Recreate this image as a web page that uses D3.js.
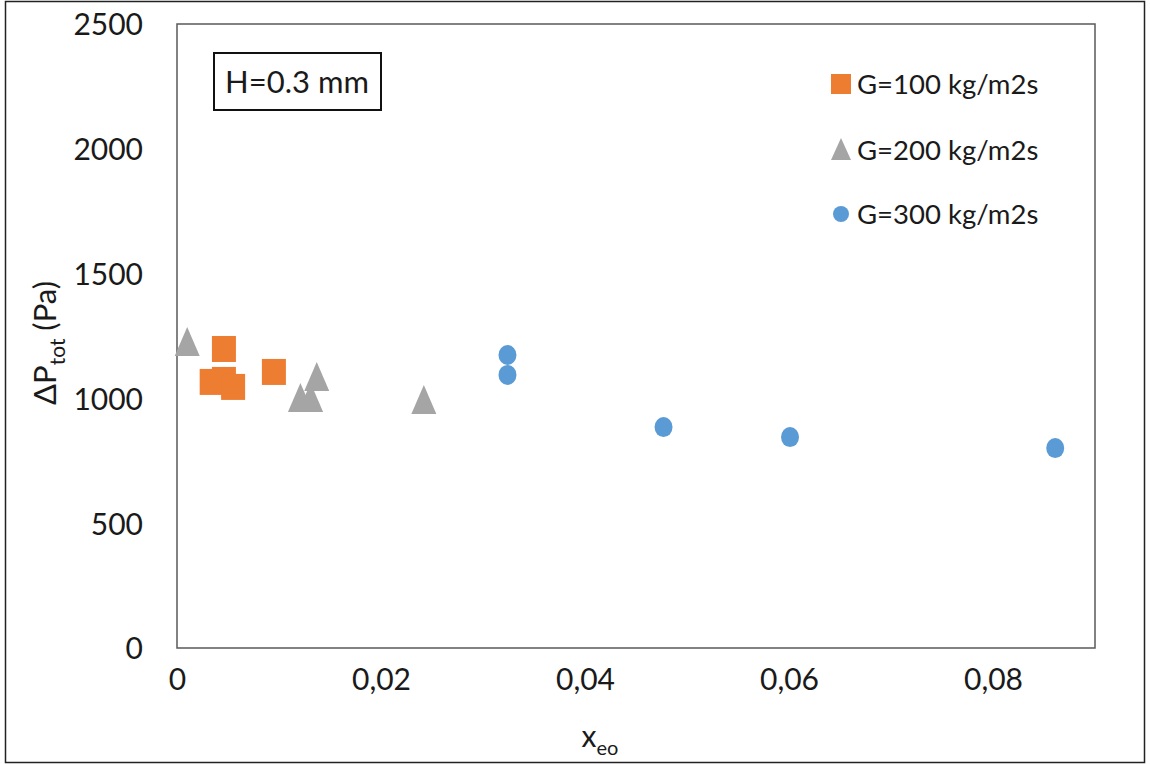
<!DOCTYPE html>
<html>
<head>
<meta charset="utf-8">
<script src="https://cdn.jsdelivr.net/npm/d3@7"></script>
<style>
  body { margin: 0; background: #fff; }
  text { font-family: Lato, "Open Sans", sans-serif; fill: #1a1a1a; }
</style>
</head>
<body>
<script>
// chart size
const w = 1150;
const h = 764;

// data (x_eo, dP in Pa)
const g100X = [0.0046, 0.0095, 0.0034, 0.0046, 0.0055];
const g100Y = [1198, 1106, 1066, 1074, 1046];
const g200X = [0.0010, 0.0137, 0.0121, 0.0131, 0.0242];
const g200Y = [1230, 1090, 1006, 1006, 998];
const g300X = [0.0324, 0.0324, 0.0477, 0.0601, 0.0861];
const g300Y = [1174, 1094, 885, 845, 801];

const seriesNames = ["G=100 kg/m2s", "G=200 kg/m2s", "G=300 kg/m2s"];
const seriesColors = ["#ED7D31", "#A5A5A5", "#5B9BD5"];
const xTicks = [0, 0.02, 0.04, 0.06, 0.08];
const yTicks = [0, 500, 1000, 1500, 2000, 2500];

const margin = {left: 177, top: 24, right: 55, bottom: 116};

const svg = d3.select("body")
            .append("svg")
            .attr("width", w)
            .attr("height", h);

// outer frame of the picture
svg.append("rect")
    .attr("x", 5.5).attr("y", 1.5)
    .attr("width", 1139).attr("height", 761)
    .attr("fill", "none")
    .attr("stroke", "#222")
    .attr("stroke-width", 1.5);

const xScale = d3.scaleLinear()
                .domain([0, 0.09])
                .range([margin.left, w - margin.right]);

const yScale = d3.scaleLinear()
                .domain([0, 2500])
                .range([h - margin.bottom, margin.top]);

// plot area border
svg.append("rect")
    .attr("x", xScale(0)).attr("y", yScale(2500))
    .attr("width", xScale(0.09) - xScale(0))
    .attr("height", yScale(0) - yScale(2500))
    .attr("fill", "none")
    .attr("stroke", "#595959")
    .attr("stroke-width", 1.5);

//Axes (no tick marks, just labels)
const fmt = (d) => d === 0 ? "0" : d3.format(".2f")(d).replace(".", ",");

const xAxis = svg.append("g")
    .attr("transform", "translate(0," + (yScale(0) + 18) + ")")
    .call(d3.axisBottom(xScale).tickValues(xTicks).tickFormat(fmt).tickSize(0));
xAxis.select(".domain").remove();
xAxis.selectAll("text").attr("font-size", "30px").attr("dy", "0.71em");

const yAxis = svg.append("g")
    .attr("transform", "translate(" + (xScale(0) - 31) + ",0)")
    .call(d3.axisLeft(yScale).tickValues(yTicks).tickFormat(d3.format("d")).tickSize(0));
yAxis.select(".domain").remove();
yAxis.selectAll("text").attr("font-size", "30px").attr("dy", "0.36em");

// axis titles
const xTitle = svg.append("text")
    .attr("x", 600).attr("y", 747)
    .attr("text-anchor", "middle")
    .attr("font-size", "30px");
xTitle.append("tspan").text("x");
xTitle.append("tspan").attr("font-size", "20px").attr("dy", 8).text("eo");

const yTitle = svg.append("text")
    .attr("transform", "translate(56,343) rotate(-90)")
    .attr("text-anchor", "middle")
    .attr("font-size", "31px");
yTitle.append("tspan").text("ΔP");
yTitle.append("tspan").attr("font-size", "21px").attr("dy", 9).text("tot");
yTitle.append("tspan").attr("dy", -9).text("\u00a0(Pa)");

// H label box
svg.append("rect")
    .attr("x", 214).attr("y", 53)
    .attr("width", 167).attr("height", 57)
    .attr("fill", "#fff")
    .attr("stroke", "#111")
    .attr("stroke-width", 2);
svg.append("text")
    .attr("x", 297).attr("y", 82)
    .attr("dy", "0.36em")
    .attr("text-anchor", "middle")
    .attr("font-size", "31px")
    .text("H=0.3 mm");

// marker shapes
const triPath = (cx, cy) => {
    const hw = 12.5, up = 14, dn = 15;
    return "M" + cx + "," + (cy - up) + "L" + (cx + hw) + "," + (cy + dn) + "L" + (cx - hw) + "," + (cy + dn) + "Z";
};

// G=100 squares
svg.selectAll("rect.g100")
    .data(d3.zip(g100X, g100Y))
    .join("rect")
    .attr("class", "g100")
    .attr("x", (d) => xScale(d[0]) - 12)
    .attr("y", (d) => yScale(d[1]) - 13)
    .attr("width", 24)
    .attr("height", 26)
    .attr("fill", seriesColors[0]);

// G=200 triangles
svg.selectAll("path.g200")
    .data(d3.zip(g200X, g200Y))
    .join("path")
    .attr("class", "g200")
    .attr("d", (d) => triPath(xScale(d[0]), yScale(d[1])))
    .attr("fill", seriesColors[1]);

// G=300 circles
svg.selectAll("ellipse.g300")
    .data(d3.zip(g300X, g300Y))
    .join("ellipse")
    .attr("class", "g300")
    .attr("cx", (d) => xScale(d[0]))
    .attr("cy", (d) => yScale(d[1]))
    .attr("rx", 9)
    .attr("ry", 10)
    .attr("fill", seriesColors[2]);

// legend
const legY = [84, 150, 214];
const leg = svg.append("g");
leg.append("rect").attr("x", 831).attr("y", legY[0] - 10).attr("width", 20).attr("height", 20).attr("fill", seriesColors[0]);
leg.append("path").attr("d", "M841," + (legY[1] - 12) + "L851," + (legY[1] + 10) + "L831," + (legY[1] + 10) + "Z").attr("fill", seriesColors[1]);
leg.append("circle").attr("cx", 841).attr("cy", legY[2]).attr("r", 8).attr("fill", seriesColors[2]);
leg.selectAll("text")
    .data(seriesNames)
    .join("text")
    .attr("x", 857)
    .attr("y", (d, i) => legY[i])
    .attr("dy", "0.36em")
    .attr("font-size", "27.5px")
    .text((d) => d);
</script>
</body>
</html>
